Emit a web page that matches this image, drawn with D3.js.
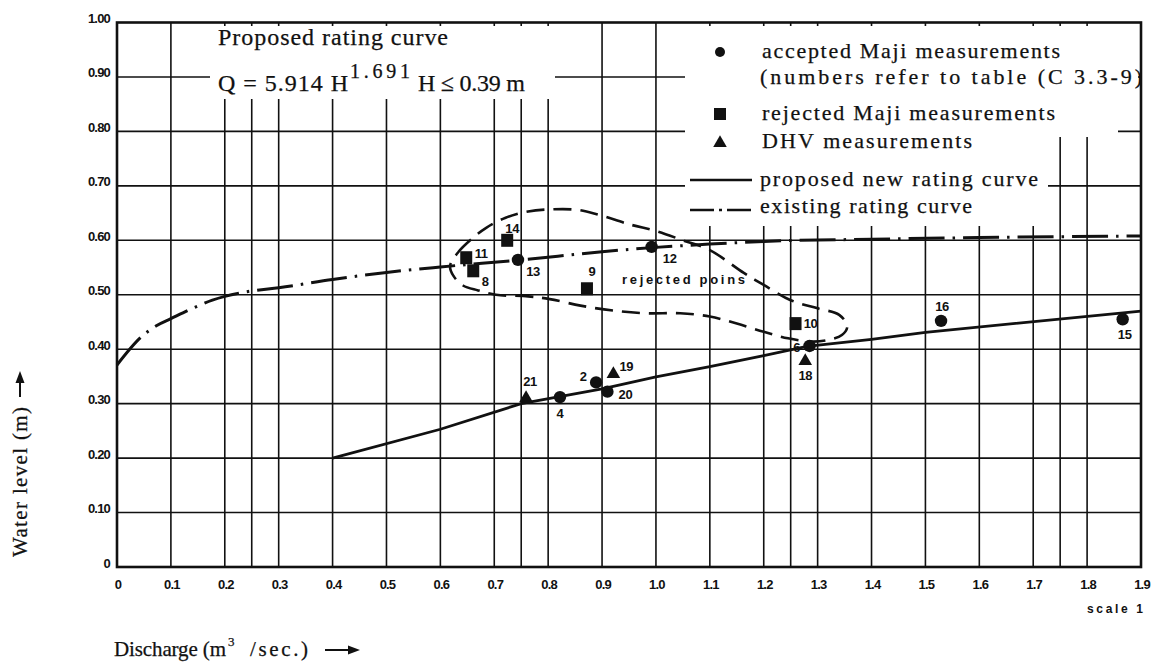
<!DOCTYPE html>
<html>
<head>
<meta charset="utf-8">
<script src="https://cdn.jsdelivr.net/npm/d3@7/dist/d3.min.js"></script>
<style>
  html, body { margin: 0; padding: 0; background: #fff; }
  svg { display: block; }
  .serif { font-family: "Liberation Serif", "Times New Roman", serif; fill: #111; stroke: #111; stroke-width: 0.25; }
  .sans { font-family: "Liberation Sans", Arial, sans-serif; font-weight: bold; fill: #111; }
</style>
</head>
<body>
<div id="chart"></div>
<script>
// axis ticks
const xTicks = [0, 0.1, 0.2, 0.3, 0.4, 0.5, 0.6, 0.7, 0.8, 0.9, 1.0, 1.1, 1.2, 1.3, 1.4, 1.5, 1.6, 1.7, 1.8, 1.9];
const xTickLabels = ["0", "0.1", "0.2", "0.3", "0.4", "0.5", "0.6", "0.7", "0.8", "0.9", "1.0", "1.1", "1.2", "1.3", "1.4", "1.5", "1.6", "1.7", "1.8", "1.9"];
const xExtraGrid = [0.25, 0.75, 1.25, 1.75];
const yTicks = [0, 0.1, 0.2, 0.3, 0.4, 0.5, 0.6, 0.7, 0.8, 0.9, 1.0];
const yTickLabels = ["0", "0.10", "0.20", "0.30", "0.40", "0.50", "0.60", "0.70", "0.80", "0.90", "1.00"];

// accepted Maji measurements (circles)
const acceptedIds = ["2", "4", "6", "12", "13", "15", "16", "20"];
const acceptedQ = [0.889, 0.822, 1.285, 0.992, 0.744, 1.866, 1.529, 0.910];
const acceptedH = [0.339, 0.312, 0.406, 0.588, 0.564, 0.455, 0.452, 0.322];

// rejected Maji measurements (squares)
const rejectedIds = ["8", "9", "10", "11", "14"];
const rejectedQ = [0.661, 0.872, 1.259, 0.648, 0.724];
const rejectedH = [0.544, 0.511, 0.447, 0.568, 0.600];

// DHV measurements (triangles)
const dhvIds = ["18", "19", "21"];
const dhvQ = [1.277, 0.921, 0.759];
const dhvH = [0.380, 0.356, 0.312];

// proposed new rating curve
const proposedQ = [0.40, 0.60, 0.75, 0.90, 1.00, 1.10, 1.20, 1.28, 1.40, 1.50, 1.90];
const proposedH = [0.200, 0.253, 0.300, 0.327, 0.349, 0.368, 0.388, 0.405, 0.418, 0.431, 0.470];

// existing rating curve
const existingQ = [0, 0.045, 0.073, 0.10, 0.138, 0.177, 0.20, 0.25, 0.30, 0.40, 0.50, 0.60, 0.75, 0.90, 1.00, 1.10, 1.20, 1.40, 1.60, 1.90];
const existingH = [0.371, 0.4225, 0.443, 0.456, 0.474, 0.490, 0.497, 0.507, 0.513, 0.528, 0.541, 0.551, 0.564, 0.579, 0.587, 0.593, 0.598, 0.602, 0.605, 0.608];

// envelope round the rejected points
const loopQ = [0.618, 0.633, 0.661, 0.685, 0.720, 0.763, 0.810, 0.853, 0.890, 0.952, 1.000, 1.050, 1.100, 1.163, 1.200, 1.250, 1.300, 1.340, 1.355, 1.345, 1.320, 1.290, 1.245, 1.200, 1.150, 1.100, 1.045, 0.983, 0.920, 0.860, 0.803, 0.763, 0.703, 0.670, 0.642, 0.624];
const loopH = [0.553, 0.578, 0.605, 0.623, 0.641, 0.653, 0.657, 0.656, 0.648, 0.629, 0.617, 0.600, 0.582, 0.540, 0.518, 0.490, 0.475, 0.463, 0.442, 0.426, 0.417, 0.414, 0.420, 0.432, 0.447, 0.460, 0.466, 0.466, 0.471, 0.480, 0.492, 0.497, 0.500, 0.508, 0.517, 0.535];

// label offsets (px) for the point numbers
const labelOffset = {
    "2": [-13, -6], "4": [0, 16], "6": [-13, 2], "12": [18, 12], "13": [15, 12],
    "15": [2, 15], "16": [1, -14], "20": [18, 3], "8": [12, 11], "9": [5, -17],
    "10": [15, 0], "11": [15, -4], "14": [5, -12], "18": [0, 15], "19": [13, -7], "21": [4, -16]
};

const width = 1158, height = 665;
const svg = d3.select("#chart").append("svg")
    .attr("width", width)
    .attr("height", height);

const x = d3.scaleLinear().domain([0, 1.9]).range([117, 1141]);
const y = d3.scaleLinear().domain([0, 1]).range([567, 22.5]);

// grid
const grid = svg.append("g").attr("stroke", "#111").attr("stroke-width", 1.6);
grid.selectAll("line.vx")
    .data(xTicks.slice(1, -1).concat(xExtraGrid))
    .join("line")
    .attr("x1", d => x(d)).attr("x2", d => x(d))
    .attr("y1", y(1)).attr("y2", y(0));
grid.selectAll("line.hy")
    .data(yTicks.slice(1, -1))
    .join("line")
    .attr("x1", x(0)).attr("x2", x(1.9))
    .attr("y1", d => y(d)).attr("y2", d => y(d));

// white panels behind the text blocks
const panels = [
    [210, 26, 345, 73],
    [685, 26, 453, 74],
    [685, 100, 433, 37],
    [685, 137, 363, 89]
];
svg.append("g").selectAll("rect")
    .data(panels)
    .join("rect")
    .attr("x", d => d[0]).attr("y", d => d[1])
    .attr("width", d => d[2]).attr("height", d => d[3])
    .attr("fill", "#fff");

// frame
svg.append("rect")
    .attr("x", x(0)).attr("y", y(1))
    .attr("width", x(1.9) - x(0)).attr("height", y(0) - y(1))
    .attr("fill", "none").attr("stroke", "#111").attr("stroke-width", 2.6);

// tick labels
svg.append("g").selectAll("text")
    .data(yTicks)
    .join("text")
    .attr("class", "sans")
    .attr("x", 110)
    .attr("y", d => y(d) - 4)
    .attr("text-anchor", "end")
    .attr("dominant-baseline", "central")
    .attr("font-size", 13)
    .attr("letter-spacing", -0.8)
    .text((d, i) => yTickLabels[i]);

svg.append("g").selectAll("text")
    .data(xTicks)
    .join("text")
    .attr("class", "sans")
    .attr("x", d => x(d) + 1)
    .attr("y", 589)
    .attr("text-anchor", "middle")
    .attr("font-size", 13)
    .attr("letter-spacing", -0.8)
    .text((d, i) => xTickLabels[i]);

svg.append("text")
    .attr("class", "sans")
    .attr("x", 1087).attr("y", 613)
    .attr("font-size", 12)
    .attr("textLength", 56)
    .attr("lengthAdjust", "spacing")
    .text("scale 1");

// curves
const lineOf = (qs, hs, curve) => d3.line()
    .x((d, i) => x(qs[i]))
    .y((d, i) => y(hs[i]))
    .curve(curve)(qs);

svg.append("path")
    .attr("d", lineOf(existingQ, existingH, d3.curveMonotoneX))
    .attr("fill", "none")
    .attr("stroke", "#111")
    .attr("stroke-width", 3)
    .attr("stroke-dasharray", "36,8,2.5,8");

svg.append("path")
    .attr("d", lineOf(loopQ, loopH, d3.curveCatmullRomClosed.alpha(0.5)))
    .attr("fill", "none")
    .attr("stroke", "#111")
    .attr("stroke-width", 2.6)
    .attr("stroke-dasharray", "18,9");

svg.append("path")
    .attr("d", lineOf(proposedQ, proposedH, d3.curveLinear))
    .attr("fill", "none")
    .attr("stroke", "#111")
    .attr("stroke-width", 2.8);

// markers
const tri = d3.symbol().type(d3.symbolTriangle).size(80);

svg.append("g").selectAll("circle")
    .data(acceptedIds)
    .join("circle")
    .attr("cx", (d, i) => x(acceptedQ[i]))
    .attr("cy", (d, i) => y(acceptedH[i]))
    .attr("r", 6.2)
    .attr("fill", "#111");

svg.append("g").selectAll("rect")
    .data(rejectedIds)
    .join("rect")
    .attr("x", (d, i) => x(rejectedQ[i]) - 6)
    .attr("y", (d, i) => y(rejectedH[i]) - 6.5)
    .attr("width", 12).attr("height", 13)
    .attr("fill", "#111");

svg.append("g").selectAll("path")
    .data(dhvIds)
    .join("path")
    .attr("d", tri)
    .attr("transform", (d, i) => `translate(${x(dhvQ[i])},${y(dhvH[i]) + 1})`)
    .attr("fill", "#111");

// point numbers
const allIds = acceptedIds.concat(rejectedIds, dhvIds);
const allQ = acceptedQ.concat(rejectedQ, dhvQ);
const allH = acceptedH.concat(rejectedH, dhvH);
svg.append("g").selectAll("text")
    .data(allIds)
    .join("text")
    .attr("class", "sans")
    .attr("x", (d, i) => x(allQ[i]) + labelOffset[d][0])
    .attr("y", (d, i) => y(allH[i]) + labelOffset[d][1])
    .attr("text-anchor", "middle")
    .attr("dominant-baseline", "central")
    .attr("font-size", 13)
    .attr("letter-spacing", -0.4)
    .text(d => d);

svg.append("text")
    .attr("class", "sans")
    .attr("x", x(0.937)).attr("y", y(0.519))
    .attr("font-size", 13)
    .attr("textLength", 123)
    .attr("lengthAdjust", "spacing")
    .text("rejected poins");

// rating curve formula block
svg.append("text")
    .attr("class", "serif")
    .attr("x", 218).attr("y", 45)
    .attr("font-size", 24)
    .attr("textLength", 230)
    .attr("lengthAdjust", "spacing")
    .text("Proposed rating curve");

svg.append("text").attr("class", "serif")
    .attr("x", 218).attr("y", 91).attr("font-size", 24)
    .attr("textLength", 130).attr("lengthAdjust", "spacing")
    .text("Q = 5.914 H");
svg.append("text").attr("class", "serif")
    .attr("x", 350).attr("y", 78).attr("font-size", 20)
    .attr("textLength", 60).attr("lengthAdjust", "spacing")
    .text("1.691");
svg.append("text").attr("class", "serif")
    .attr("x", 418).attr("y", 91).attr("font-size", 24)
    .attr("textLength", 107).attr("lengthAdjust", "spacing")
    .text("H ≤ 0.39 m");

// legend
const legendX = 720;
svg.append("circle").attr("cx", legendX).attr("cy", 52).attr("r", 5).attr("fill", "#111");
svg.append("rect").attr("x", legendX - 6).attr("y", 108).attr("width", 12).attr("height", 12).attr("fill", "#111");
svg.append("path").attr("d", tri).attr("transform", `translate(${legendX},${143})`).attr("fill", "#111");
svg.append("line").attr("x1", 690).attr("x2", 752).attr("y1", 180).attr("y2", 180)
    .attr("stroke", "#111").attr("stroke-width", 2.5);
svg.append("line").attr("x1", 690).attr("x2", 752).attr("y1", 210).attr("y2", 210)
    .attr("stroke", "#111").attr("stroke-width", 2.5).attr("stroke-dasharray", "24,5,3,5");

const legendRows = [
    ["accepted Maji measurements", 762, 58, 298],
    ["(numbers refer to table (C 3.3-9)", 760, 84, 382],
    ["rejected Maji measurements", 762, 120, 293],
    ["DHV measurements", 762, 148, 210],
    ["proposed new rating curve", 760, 186, 278],
    ["existing rating curve", 760, 213, 212]
];
svg.append("g").selectAll("text")
    .data(legendRows)
    .join("text")
    .attr("class", "serif")
    .attr("x", d => d[1]).attr("y", d => d[2])
    .attr("font-size", 22)
    .attr("textLength", d => d[3])
    .attr("lengthAdjust", "spacing")
    .text(d => d[0]);

// axis titles
const xt = svg.append("g");
xt.append("text").attr("class", "serif").attr("x", 114).attr("y", 656).attr("font-size", 21)
    .attr("textLength", 112).attr("lengthAdjust", "spacing").text("Discharge (m");
xt.append("text").attr("class", "serif").attr("x", 228).attr("y", 646).attr("font-size", 13).text("3");
xt.append("text").attr("class", "serif").attr("x", 250).attr("y", 656).attr("font-size", 21)
    .attr("textLength", 58).attr("lengthAdjust", "spacing").text("/sec.)");
xt.append("line").attr("x1", 325).attr("x2", 350).attr("y1", 650).attr("y2", 650)
    .attr("stroke", "#111").attr("stroke-width", 2);
xt.append("path").attr("d", "M360,650 L348,645.5 L348,654.5 Z").attr("fill", "#111");

const yt = svg.append("g").attr("transform", "translate(27,557) rotate(-90)");
yt.append("text").attr("class", "serif").attr("x", 0).attr("y", 0).attr("font-size", 21)
    .attr("textLength", 150).attr("lengthAdjust", "spacing").text("Water level (m)");
yt.append("line").attr("x1", 160).attr("x2", 176).attr("y1", -7).attr("y2", -7)
    .attr("stroke", "#111").attr("stroke-width", 2);
yt.append("path").attr("d", "M186,-7 L174,-11.5 L174,-2.5 Z").attr("fill", "#111");
</script>
</body>
</html>
